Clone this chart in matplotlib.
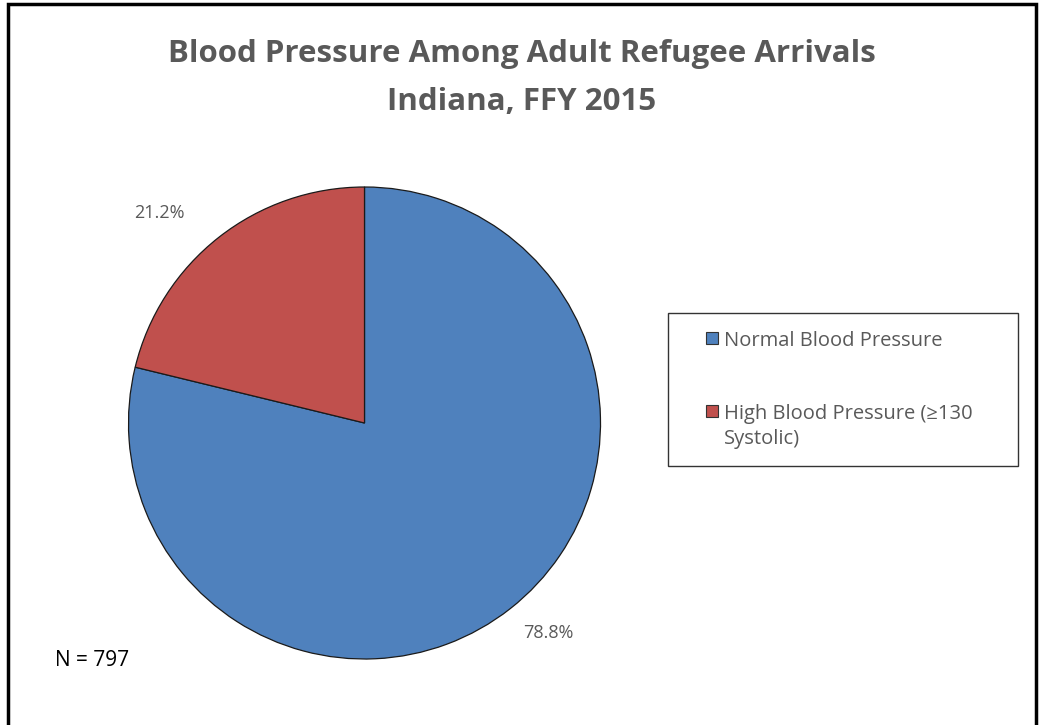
import matplotlib
matplotlib.use('Agg')
import matplotlib.pyplot as plt
from matplotlib.patches import Rectangle

categories = ['Normal Blood Pressure', 'High Blood Pressure (≥130\nSystolic)']
shares = [78.8, 21.2]
colors = ['#4F81BD', '#C0504D']
sample_size = 797
title = 'Blood Pressure Among Adult Refugee Arrivals\nIndiana, FFY 2015'

plt.rcParams['font.family'] = ['Open Sans', 'DejaVu Sans']

W, H = 1043, 725
fig = plt.figure(figsize=(W / 100, H / 100), dpi=100)

# outer frame (bottom edge runs off the image)
fig.patches.append(Rectangle((8 / W, -0.05), (1036 - 8) / W, 1.05 - 4 / H,
                             transform=fig.transFigure, fill=False,
                             edgecolor='black', linewidth=2.5))

cx, cy, r = 364.5, 423, 236
ax = fig.add_axes([(cx - r) / W, 1 - (cy + r) / H, 2 * r / W, 2 * r / H])
wedges, _ = ax.pie(shares, colors=colors, startangle=90, counterclock=False,
                   wedgeprops=dict(edgecolor='#1a1a1a', linewidth=0.9))
ax.set_xlim(-1, 1)
ax.set_ylim(-1, 1)
ax.set_aspect('equal')
ax.axis('off')

# percentage labels outside each slice
label_xy = [(0.78, -0.89), (-0.87, 0.89)]
for v, (x, y) in zip(shares, label_xy):
    ax.text(x, y, f'{v:.1f}%', ha='center', va='center', fontsize=13,
            color='#595959', clip_on=False)

fig.text(0.5, 1 - 78 / H, title, ha='center', va='center', fontsize=22.5,
         fontweight='bold', color='#595959', linespacing=1.8)

fig.text(55 / W, 1 - 661 / H, f'N = {sample_size}', ha='left', va='center',
         fontsize=15, color='black')

# legend box with a square key per slice, text aligned to the first line
fig.patches.append(Rectangle((668 / W, 1 - 466 / H), (1018 - 668) / W, (466 - 313) / H,
                             transform=fig.transFigure, fill=False,
                             edgecolor='#333333', linewidth=1.0))
item_y = [338, 411]
for w, lab, y in zip(wedges, categories, item_y):
    fig.patches.append(Rectangle((706 / W, 1 - (y + 6) / H), 12 / W, 12 / H,
                                 transform=fig.transFigure,
                                 facecolor=w.get_facecolor(),
                                 edgecolor='#333333', linewidth=0.8))
    fig.text(724 / W, 1 - (y - 7) / H, lab, ha='left', va='top',
             fontsize=14.5, color='#595959', linespacing=1.35)

fig.savefig('out.png', dpi=100)
